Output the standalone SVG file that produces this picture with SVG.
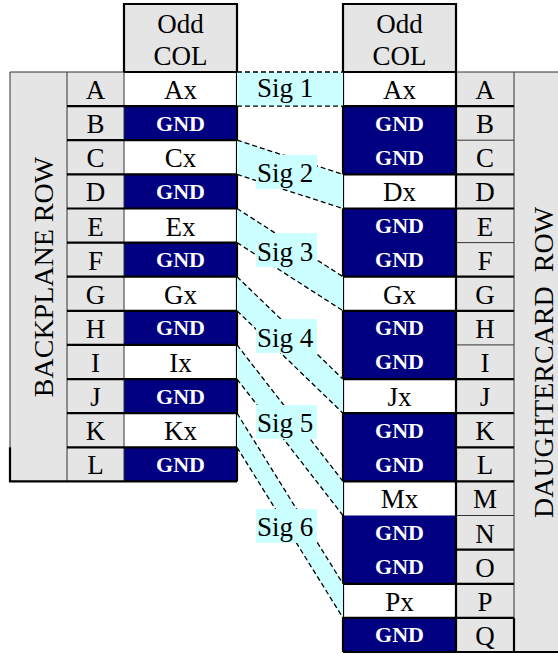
<svg xmlns="http://www.w3.org/2000/svg" width="558" height="654" viewBox="0 0 558 654">
  <style>
    text { font-family: "Liberation Serif", "Times New Roman", serif; fill: #000; }
    .t { font-size: 27px; text-anchor: middle; }
    .v { font-size: 28px; text-anchor: middle; }
    .g { font-size: 22px; font-weight: bold; fill: #fff; text-anchor: middle; }
    .sig { font-size: 27px; }
    .gray { fill: #e5e5e5; }
    .wht { fill: #fff; }
    .navy { fill: #000080; }
    .thin { stroke: #333; stroke-width: 1; fill: none; }
    .thick { stroke: #000; stroke-width: 2.2; fill: none; }
    .band { fill: #ccffff; stroke: none; }
    .dash { stroke: #000; stroke-width: 1.3; stroke-dasharray: 5 3; fill: none; }
    .lbl { fill: #ccffff; }
  </style>

  <!-- Backplane connector column -->
  <g id="backplane">
    <rect class="gray" x="10" y="72" width="114" height="409.4"/>
    <rect class="gray" x="124" y="4" width="113" height="68"/>
    <rect class="wht" x="124" y="72" width="113" height="34.1"/>
    <rect class="navy" x="124" y="106.1" width="113" height="34.1"/>
    <rect class="wht" x="124" y="140.2" width="113" height="34.2"/>
    <rect class="navy" x="124" y="174.4" width="113" height="34.1"/>
    <rect class="wht" x="124" y="208.5" width="113" height="34.1"/>
    <rect class="navy" x="124" y="242.6" width="113" height="34.1"/>
    <rect class="wht" x="124" y="276.7" width="113" height="34.1"/>
    <rect class="navy" x="124" y="310.8" width="113" height="34.1"/>
    <rect class="wht" x="124" y="344.9" width="113" height="34.2"/>
    <rect class="navy" x="124" y="379.1" width="113" height="34.1"/>
    <rect class="wht" x="124" y="413.2" width="113" height="34.1"/>
    <rect class="navy" x="124" y="447.3" width="113" height="34.1"/>

    <!-- grid -->
    <path class="thin" d="M10,72 H124 M10,72 V447.3 M67,72 V481.4 M124,72 V481.4"/>
    <path class="thick" d="M67,106.1 H237 M67,140.2 H237 M67,174.4 H237 M67,208.5 H237 M67,242.6 H237 M67,276.7 H237 M67,310.8 H237 M67,344.9 H237 M67,379.1 H237 M67,413.2 H237 M67,447.3 H237"/>
    <path class="thick" d="M124,72 V4 H237 V481.4 M10,447.3 V481.4 H237 M124,72 H237"/>

    <text class="t" x="180.5" y="33">Odd</text>
    <text class="t" x="180.5" y="65">COL</text>
    <text class="v" transform="translate(53,277) rotate(-90)">BACKPLANE ROW</text>

    <text class="t" x="95.5" y="99">A</text>
    <text class="t" x="95.5" y="133.1">B</text>
    <text class="t" x="95.5" y="167.2">C</text>
    <text class="t" x="95.5" y="201.4">D</text>
    <text class="t" x="95.5" y="235.5">E</text>
    <text class="t" x="95.5" y="269.6">F</text>
    <text class="t" x="95.5" y="303.7">G</text>
    <text class="t" x="95.5" y="337.8">H</text>
    <text class="t" x="95.5" y="371.9">I</text>
    <text class="t" x="95.5" y="406.1">J</text>
    <text class="t" x="95.5" y="440.2">K</text>
    <text class="t" x="95.5" y="474.3">L</text>

    <text class="t" x="180.5" y="99">Ax</text>
    <text class="g" x="180.5" y="130.6">GND</text>
    <text class="t" x="180.5" y="167.2">Cx</text>
    <text class="g" x="180.5" y="198.9">GND</text>
    <text class="t" x="180.5" y="235.5">Ex</text>
    <text class="g" x="180.5" y="267.1">GND</text>
    <text class="t" x="180.5" y="303.7">Gx</text>
    <text class="g" x="180.5" y="335.3">GND</text>
    <text class="t" x="180.5" y="371.9">Ix</text>
    <text class="g" x="180.5" y="403.6">GND</text>
    <text class="t" x="180.5" y="440.2">Kx</text>
    <text class="g" x="180.5" y="471.8">GND</text>
  </g>

  <!-- Daughtercard connector column -->
  <g id="daughtercard">
    <rect class="gray" x="456" y="72" width="102" height="580"/>
    <rect class="gray" x="343" y="4" width="113" height="68"/>
    <rect class="wht" x="343" y="72" width="113" height="34.1"/>
    <rect class="navy" x="343" y="106.1" width="113" height="68.3"/>
    <rect class="wht" x="343" y="174.4" width="113" height="34.1"/>
    <rect class="navy" x="343" y="208.5" width="113" height="68.2"/>
    <rect class="wht" x="343" y="276.7" width="113" height="34.1"/>
    <rect class="navy" x="343" y="310.8" width="113" height="68.3"/>
    <rect class="wht" x="343" y="379.1" width="113" height="34.1"/>
    <rect class="navy" x="343" y="413.2" width="113" height="68.2"/>
    <rect class="wht" x="343" y="481.4" width="113" height="34.1"/>
    <rect class="navy" x="343" y="515.5" width="113" height="68.3"/>
    <rect class="wht" x="343" y="583.8" width="113" height="34.1"/>
    <rect class="navy" x="343" y="617.9" width="113" height="34.1"/>

    <!-- grid -->
    <path class="thin" d="M456,72 H558 M514,72 V652 M456,140.2 H514 M456,242.6 H514 M456,344.9 H514 M456,515.5 H514"/>
    <path class="thick" d="M343,106.1 H514 M343,174.4 H514 M343,208.5 H514 M343,276.7 H514 M343,310.8 H514 M343,379.1 H514 M343,413.2 H514 M456,447.3 H514 M343,481.4 H514 M456,549.7 H514 M343,583.8 H514 M343,617.9 H514"/>
    <path class="thick" d="M343,652 V4 H456 V652 M343,72 H456 M343,652 H558 M514,617.9 V652"/>

    <text class="t" x="399.5" y="33">Odd</text>
    <text class="t" x="399.5" y="65">COL</text>
    <text class="v" transform="translate(553,362.5) rotate(-90)" xml:space="preserve">DAUGHTERCARD  ROW</text>

    <text class="t" x="485" y="99">A</text>
    <text class="t" x="485" y="133.1">B</text>
    <text class="t" x="485" y="167.2">C</text>
    <text class="t" x="485" y="201.4">D</text>
    <text class="t" x="485" y="235.5">E</text>
    <text class="t" x="485" y="269.6">F</text>
    <text class="t" x="485" y="303.7">G</text>
    <text class="t" x="485" y="337.8">H</text>
    <text class="t" x="485" y="371.9">I</text>
    <text class="t" x="485" y="406.1">J</text>
    <text class="t" x="485" y="440.2">K</text>
    <text class="t" x="485" y="474.3">L</text>
    <text class="t" x="485" y="508.4">M</text>
    <text class="t" x="485" y="542.5">N</text>
    <text class="t" x="485" y="576.7">O</text>
    <text class="t" x="485" y="610.8">P</text>
    <text class="t" x="485" y="644.9">Q</text>

    <text class="t" x="399.5" y="99">Ax</text>
    <text class="g" x="399.5" y="130.6">GND</text>
    <text class="g" x="399.5" y="164.7">GND</text>
    <text class="t" x="399.5" y="201.4">Dx</text>
    <text class="g" x="399.5" y="233">GND</text>
    <text class="g" x="399.5" y="267.1">GND</text>
    <text class="t" x="399.5" y="303.7">Gx</text>
    <text class="g" x="399.5" y="335.3">GND</text>
    <text class="g" x="399.5" y="369.4">GND</text>
    <text class="t" x="399.5" y="406.1">Jx</text>
    <text class="g" x="399.5" y="437.7">GND</text>
    <text class="g" x="399.5" y="471.8">GND</text>
    <text class="t" x="399.5" y="508.4">Mx</text>
    <text class="g" x="399.5" y="540">GND</text>
    <text class="g" x="399.5" y="574.2">GND</text>
    <text class="t" x="399.5" y="610.8">Px</text>
    <text class="g" x="399.5" y="642.4">GND</text>
  </g>

  <!-- Signal routes between the two columns -->
  <g id="connectors">
    <g id="sig1">
      <polygon class="band" points="237,72 343,72 343,106.1 237,106.1"/>
      <path class="dash" d="M237,72 L343,72 M237,106.1 L343,106.1"/>
    </g>
    <g id="sig2">
      <polygon class="band" points="237,140.2 343,174.4 343,208.5 237,174.4"/>
      <path class="dash" d="M237,140.2 L343,174.4 M237,174.4 L343,208.5"/>
    </g>
    <g id="sig3">
      <polygon class="band" points="237,208.5 343,276.7 343,310.8 237,242.6"/>
      <path class="dash" d="M237,208.5 L343,276.7 M237,242.6 L343,310.8"/>
    </g>
    <g id="sig4">
      <polygon class="band" points="237,276.7 343,379.1 343,413.2 237,310.8"/>
      <path class="dash" d="M237,276.7 L343,379.1 M237,310.8 L343,413.2"/>
    </g>
    <g id="sig5">
      <polygon class="band" points="237,344.9 343,481.4 343,515.5 237,379.1"/>
      <path class="dash" d="M237,344.9 L343,481.4 M237,379.1 L343,515.5"/>
    </g>
    <g id="sig6">
      <polygon class="band" points="237,413.2 343,583.8 343,617.9 237,447.3"/>
      <path class="dash" d="M237,413.2 L343,583.8 M237,447.3 L343,617.9"/>
    </g>

    <!-- labels -->
    <rect class="lbl" x="256" y="155" width="61" height="34"/>
    <rect class="lbl" x="256" y="233" width="61" height="34"/>
    <rect class="lbl" x="256" y="319" width="61" height="34"/>
    <rect class="lbl" x="256" y="405" width="61" height="34"/>
    <rect class="lbl" x="256" y="509" width="61" height="34"/>
    <text class="sig" x="257" y="97">Sig 1</text>
    <text class="sig" x="257" y="182">Sig 2</text>
    <text class="sig" x="257" y="260.5">Sig 3</text>
    <text class="sig" x="257" y="346.5">Sig 4</text>
    <text class="sig" x="257" y="431.5">Sig 5</text>
    <text class="sig" x="257" y="536">Sig 6</text>
  </g>
</svg>
